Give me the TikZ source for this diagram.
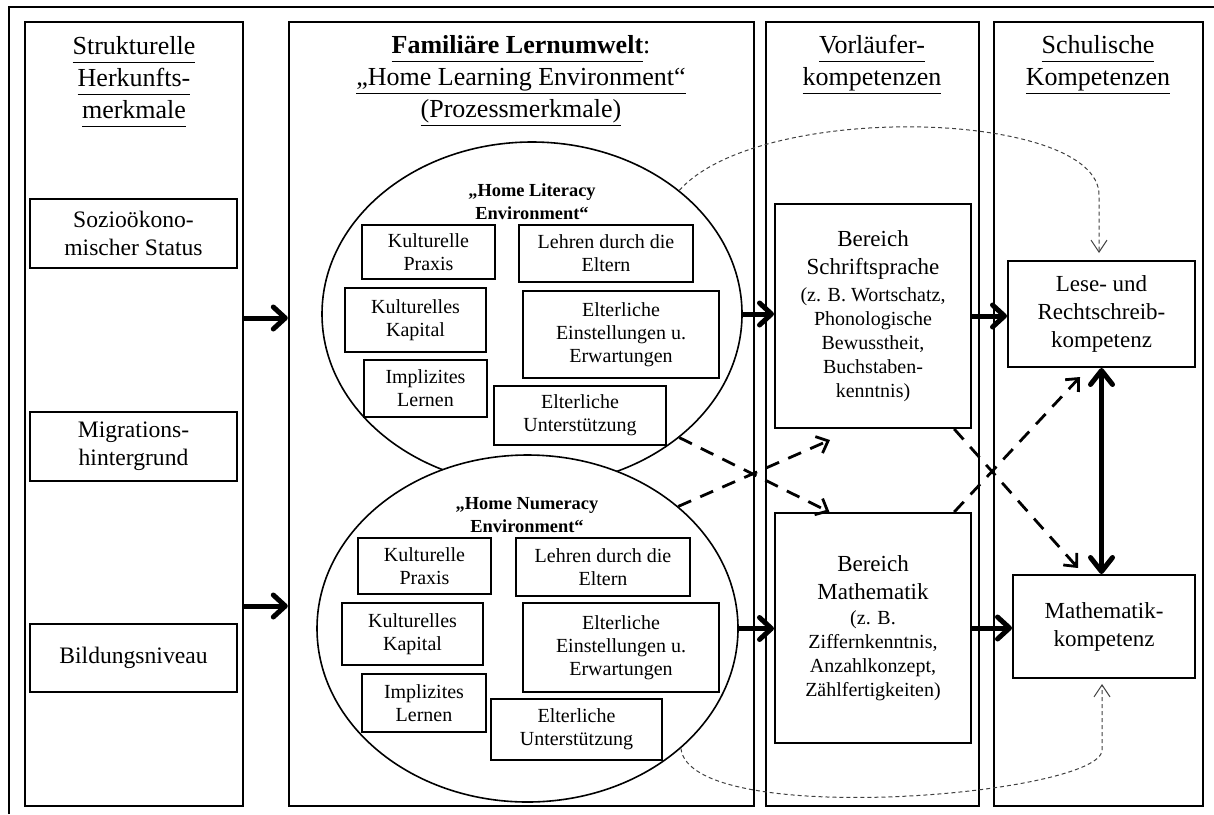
\documentclass[tikz,border=0pt]{standalone}
\usepackage{fontspec}
\setmainfont{Liberation Serif}
\usetikzlibrary{arrows.meta, shapes.geometric, fit, calc}
\newcommand{\bigline}[1]{{\fontsize{11.5}{14}\selectfont #1}}
\newcommand{\headline}[1]{\underline{#1\vphantom{(g}}}

\tikzset{
	colbox/.style={draw, line width=1.2pt, inner sep=0pt},
	itembox/.style={draw, line width=1pt, fill=white, inner sep=0pt, align=center, font=\fontsize{11.5}{14}\selectfont},
	featbox/.style={itembox, minimum width=103.5pt, minimum height=34.5pt, font=\fontsize{11.8}{14}\selectfont},
	stagebox/.style={draw, line width=1pt, fill=white, inner sep=0pt, align=center, font=\fontsize{10}{12}\selectfont},
	envbox/.style={draw, line width=0.9pt, fill=white, inner sep=0pt, align=center, font=\fontsize{10}{11.5}\selectfont},
	envell/.style={draw, ellipse, line width=0.8pt, fill=white, inner sep=0pt},
	envtitle/.style={align=center, inner sep=0pt, font=\bfseries\fontsize{9.2}{11.5}\selectfont},
	headtxt/.style={align=center, inner sep=0pt, font=\fontsize{13}{16}\selectfont},
	bigarrow/.style={line width=2.5pt, -{Straight Barb[length=6pt, width=11pt, round]}},
	bigboth/.style={line width=2.5pt, {Straight Barb[length=7pt, width=11pt, round]}-{Straight Barb[length=7pt, width=11pt, round]}},
	dasharrow/.style={line width=1.4pt, dash pattern=on 7pt off 5pt, -{Straight Barb[length=5pt, width=9pt]}},
	fadearrow/.style={line width=0.5pt, black!75, dash pattern=on 2pt off 1.5pt, -{Straight Barb[length=6pt, width=8pt]}},
}

\begin{document}
\begin{tikzpicture}[x=0.5pt, y=-0.5pt]
	\useasboundingbox (0,0) rectangle (1214,814);
	
	% frame and columns
	\draw[line width=1.2pt] (9,814) |- (1214,7);
	\node[colbox, fit={(25,22) (243,806)}] (col1) {};
	\node[colbox, fit={(289,22) (754,806)}] (col2) {};
	\node[colbox, fit={(766,22) (979,806)}] (col3) {};
	\node[colbox, fit={(994,22) (1203,806)}] (col4) {};
	
	\node[headtxt] (head1) at (134,82) {\headline{Strukturelle}\\\headline{Herkunfts-}\\\headline{merkmale}};
	\node[headtxt] (head2) at (521,81) {\headline{\textbf{Familiäre Lernumwelt}}:\\\headline{„Home Learning Environment“}\\\headline{(Prozessmerkmale)}};
	\node[headtxt] (head3) at (872,65) {\headline{Vorläufer-}\\\headline{kompetenzen}};
	\node[headtxt] (head4) at (1098,65) {\headline{Schulische}\\\headline{Kompetenzen}};
	
	% structural features
	\node[featbox] (ses) at (133.5,233.5) {Sozioökono-\\mischer Status};
	\node[featbox] (migr) at (133.5,446.5) {Migrations-\\hintergrund};
	\node[featbox, minimum height=34pt] (bild) at (133.5,658) {Bildungsniveau};
	
	% home literacy environment
	\node[envell, minimum width=210pt, minimum height=172pt] (hle) at (532,314) {};
	\node[envtitle] (hletitle) at (532,202) {„Home Literacy\\Environment“};
	\node[envbox, minimum width=66.5pt, minimum height=27pt] (hlpraxis) at (428.5,252) {Kulturelle\\Praxis};
	\node[envbox, minimum width=87pt, minimum height=28.5pt] (hllehren) at (606,253.5) {Lehren durch die\\Eltern};
	\node[envbox, minimum width=70.5pt, minimum height=32pt] (hlkapital) at (415.5,320) {Kulturelles\\Kapital};
	\node[envbox, minimum width=98pt, minimum height=43.5pt] (hleinst) at (621,334.5) {Elterliche\\Einstellungen u.\\Erwartungen};
	\node[envbox, minimum width=61.5pt, minimum height=28.5pt] (hlimpl) at (425.5,388.5) {Implizites\\Lernen};
	\node[envbox, minimum width=86pt, minimum height=29.5pt] (hlunter) at (580,415.5) {Elterliche\\Unterstützung};
	
	% home numeracy environment
	\node[envell, minimum width=210.5pt, minimum height=173.5pt] (hne) at (527.5,628.5) {};
	\node[envtitle] (hnetitle) at (527,515) {„Home Numeracy\\Environment“};
	\node[envbox, minimum width=66.5pt, minimum height=28pt] (hnpraxis) at (424.5,566) {Kulturelle\\Praxis};
	\node[envbox, minimum width=87pt, minimum height=29pt] (hnlehren) at (603,567) {Lehren durch die\\Eltern};
	\node[envbox, minimum width=70.5pt, minimum height=31pt] (hnkapital) at (412.5,634) {Kulturelles\\Kapital};
	\node[envbox, minimum width=98pt, minimum height=44.5pt] (hneinst) at (621,647.5) {Elterliche\\Einstellungen u.\\Erwartungen};
	\node[envbox, minimum width=62pt, minimum height=29pt] (hnimpl) at (424,703) {Implizites\\Lernen};
	\node[envbox, minimum width=85.5pt, minimum height=30.5pt] (hnunter) at (576.5,729.5) {Elterliche\\Unterstützung};
	
	% precursor and school competences
	\node[stagebox, minimum width=98pt, minimum height=112pt] (schrift) at (873,316) {\bigline{Bereich}\\[2pt]\bigline{Schriftsprache}\\[1.5pt](z. B. Wortschatz,\\Phonologische\\Bewusstheit,\\Buchstaben-\\kenntnis)};
	\node[stagebox, minimum width=98pt, minimum height=115pt] (mathb) at (873,628) {\bigline{Bereich}\\[2pt]\bigline{Mathematik}\\[0.5pt](z. B.\\Ziffernkenntnis,\\Anzahlkonzept,\\Zählfertigkeiten)};
	\node[itembox, minimum width=93.5pt, minimum height=53pt] (lese) at (1101.5,314) {Lese- und\\Rechtschreib-\\kompetenz};
	\node[itembox, minimum width=91pt, minimum height=51.5pt] (mathk) at (1104,626.5) {Mathematik-\\kompetenz};
	
	% solid arrows
	\draw[bigarrow] ([yshift=48pt]col1.east) -- ([yshift=48pt]col2.west);
	\draw[bigarrow] ([yshift=-96pt]col1.east) -- ([yshift=-96pt]col2.west);
	\draw[bigarrow] (hle.east) -- (hle.east -| schrift.west);
	\draw[bigarrow] (hne.east) -- (hne.east -| mathb.west);
	\draw[bigarrow] (schrift.east) -- (schrift.east -| lese.west);
	\draw[bigarrow] (mathb.east) -- (mathb.east -| mathk.west);
	\draw[bigboth] (lese.south) -- (lese.south |- mathk.north);
	
	% dashed cross links
	\coordinate (tipsch) at (830,440);
	\coordinate (tipmk) at (1078,568);
	\coordinate (tiplese) at (1080,377);
	\draw[dasharrow] (hle.-40) -- ($(mathb.north west)!0.28!(mathb.north east)$);
	\draw[dasharrow] (hne.39) -- (tipsch);
	\draw[dasharrow] ($(schrift.south west)!0.91!(schrift.south east)$) -- (tipmk);
	\draw[dasharrow] ($(mathb.north west)!0.91!(mathb.north east)$) -- (tiplese);
	
	% thin curved links
	\coordinate (tiplesetop) at (1099,253);
	\coordinate (tipmkbot) at (1102,684);
	\draw[fadearrow] (hle.40) .. controls (760,100) and (1099,110) .. (1099,195) -- (tiplesetop);
	\draw[fadearrow] (hne.-38) .. controls (690,830) and (1102,795) .. (1102,750) -- (tipmkbot);
\end{tikzpicture}
\end{document}
